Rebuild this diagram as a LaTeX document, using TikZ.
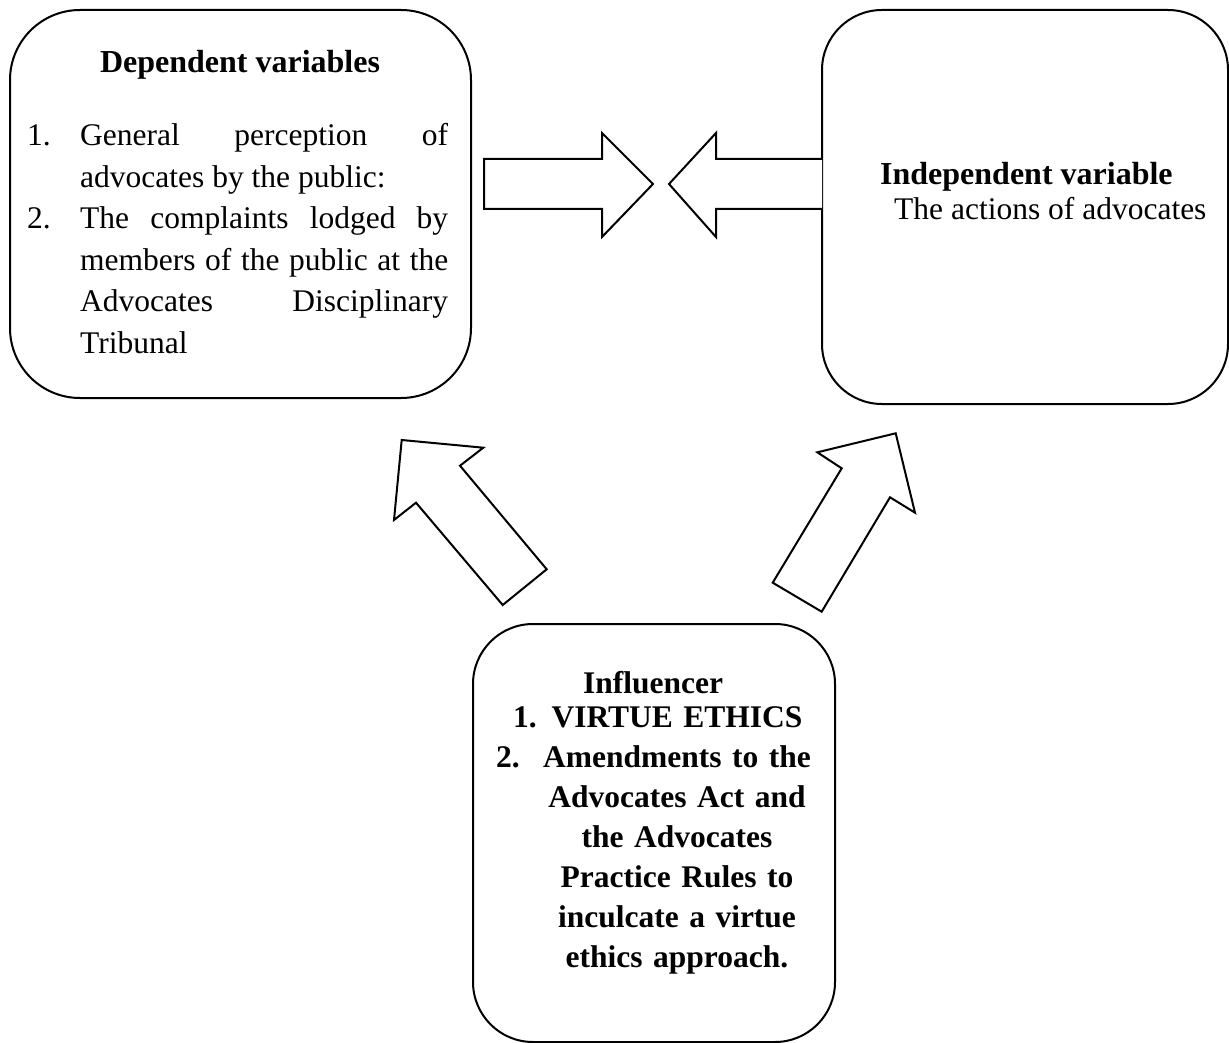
\documentclass[tikz,border=0pt]{standalone}
\usepackage{fontspec}
\setmainfont{Liberation Serif}
\usepackage{tikz}
\usetikzlibrary{positioning}

\newcommand{\bodysize}{\fontsize{31.5}{41.5}\selectfont}
\newcommand{\titlesize}{\fontsize{32}{38}\selectfont\bfseries}
\newcommand{\inflsize}{\fontsize{31.5}{40}\selectfont\bfseries}

\begin{document}
\begin{tikzpicture}[x=1pt, y=-1pt,
    varbox/.style={rectangle, draw, line width=2pt, inner sep=0pt},
    txt/.style={inner sep=0pt, font=\bodysize},
    ttl/.style={inner sep=0pt, font=\titlesize},
    infl/.style={inner sep=0pt, font=\inflsize},
    blockarr/.style={draw, line width=2pt, line join=miter, fill=white},
  ]
    \useasboundingbox (0,0) rectangle (1229,1043);

    % the three boxes
    \node[varbox, rounded corners=70pt, minimum width=461pt, minimum height=388pt] (dep) at (240.5,204) {};
    \node[varbox, rounded corners=60pt, minimum width=406pt, minimum height=394pt] (indep) at (1025,207) {};
    \node[varbox, rounded corners=60pt, minimum width=362pt, minimum height=418pt] (inf) at (654,833) {};

    % dependent variables
    \node[ttl, anchor=base] (deptitle) at (240,73) {Dependent variables};
    \node[txt, anchor=base west] (depnum1) at (27,146) {1.};
    \node[txt, anchor=base west] (depnum2) at (27,229) {2.};
    \node[txt, anchor=base west, text width=368pt, align=justify] (depitem1) at (80,146)
      {General perception of\linebreak advocates by the public:};
    \node[txt, anchor=base west, text width=368pt, align=justify] (depitem2) at (80,229)
      {The complaints lodged by\linebreak members of the public at the\linebreak Advocates Disciplinary\linebreak Tribunal};

    % independent variable
    \node[ttl, anchor=base west] (indeptitle) at (880,185) {Independent variable};
    \node[txt, anchor=base west] (indeptext) at (894,220) {The actions of advocates};

    % influencer
    \node[infl, anchor=base] (inftitle) at (653,693) {Influencer};
    \node[infl, anchor=base west] (infnum1) at (513,727) {1.};
    \node[infl, anchor=base west] (infnum2) at (496,767) {2.};
    \node[infl, anchor=base, text width=330pt, align=center] (infitems) at (677,727)
      {VIRTUE ETHICS\\Amendments to the\\Advocates Act and\\the Advocates\\Practice Rules to\\inculcate a virtue\\ethics approach.};

    % block arrows
    \draw[blockarr] (484,159) -- (602,159) -- (602,133) -- (653,184) -- (602,237) -- (602,209) -- (484,209) -- cycle;
    \draw[blockarr] (822,159) -- (716,159) -- (716,133) -- (669,184) -- (716,237) -- (716,209) -- (822,209);
    \draw[blockarr] (401.7,440) -- (483.3,447.7) -- (460,465.7) -- (546.7,569.3) -- (502.7,605)
      -- (416,502.7) -- (394,520) -- cycle;
    \draw[blockarr] (895.7,433.3) -- (915,512.7) -- (890,497.3) -- (821.7,611.7) -- (772.7,582.7)
      -- (841.7,468.3) -- (817.3,452.3) -- cycle;
  \end{tikzpicture}
\end{document}
